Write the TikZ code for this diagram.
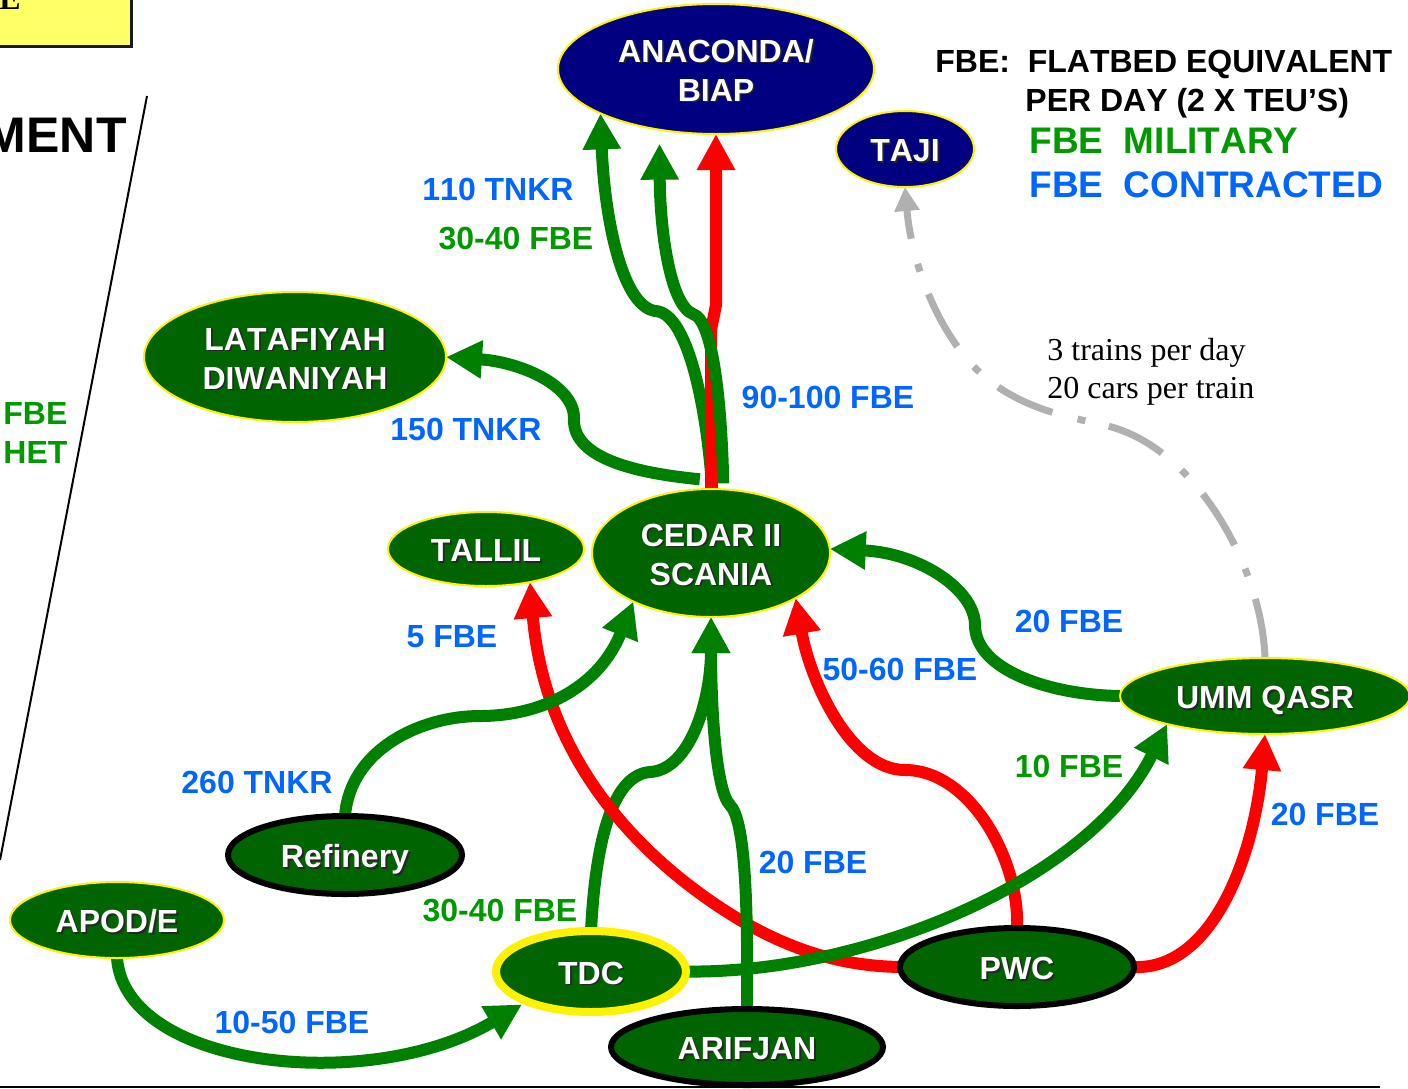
\documentclass[tikz,border=0pt]{standalone}
\usepackage{fontspec}
\setmainfont[Kerning=Off]{Liberation Sans}
\newfontfamily\serifface{Liberation Serif}
\usetikzlibrary{arrows.meta,shapes.geometric,backgrounds,calc}
\definecolor{lineGreen}{HTML}{008000}
\definecolor{nodeGreen}{HTML}{006400}
\definecolor{labelGreen}{HTML}{009900}
\definecolor{labelBlue}{HTML}{0066FF}
\definecolor{navyFill}{HTML}{000080}
\definecolor{paleYellow}{HTML}{FFFF66}
\definecolor{railGrey}{HTML}{B0B0B0}
\newcommand\shtxt[1]{\leavevmode\rlap{\raisebox{-0.9pt}{\kern0.9pt\textcolor{black!85}{#1}}}#1}
\tikzset{
  base/.style={ellipse,inner sep=0pt,outer sep=0pt,text=white,align=center,
    text height=12.5pt,text depth=0pt,
    font=\fontsize{16}{19.5}\selectfont\bfseries},
  twolines/.style={text height=32pt,text depth=0pt},
  navyN/.style={base,fill=navyFill,draw=yellow,line width=1pt},
  greenN/.style={base,fill=nodeGreen,draw=yellow,line width=1pt},
  blackN/.style={base,fill=nodeGreen,draw=black,line width=3pt},
  hubN/.style={base,fill=nodeGreen,draw=yellow,line width=4pt},
  lab/.style={font=\fontsize{16}{19}\selectfont\bfseries,inner sep=0pt},
  blueL/.style={lab,text=labelBlue},
  greenL/.style={lab,text=labelGreen},
  route/.style={line width=6pt,-{Triangle[length=18pt,width=18pt]}},
  mil/.style={route,draw=lineGreen},
  hot/.style={route,draw=red},
  rail/.style={line width=3.5pt,draw=railGrey,dash pattern=on 30pt off 12pt on 4pt off 13pt,
    -{Triangle[length=12pt,width=12pt,fill=railGrey]}},
}
\begin{document}
\begin{tikzpicture}[x=0.5pt,y=-0.5pt]
\useasboundingbox (0,0) rectangle (1408,1088);
% frame fragments at the left
\node[draw=black!90,line width=1.5pt,fill=paleYellow,minimum width=137pt,minimum height=30pt,inner sep=0pt,outer sep=0pt,anchor=south east] (topbox) at (131.5,46.5) {};
\node[anchor=base west,inner sep=0pt,font=\fontsize{16}{19}\selectfont\bfseries\serifface] (topchar) at (-1,9) {E};
\node[anchor=base east,inner sep=0pt,font=\fontsize{25}{29}\selectfont\bfseries] (ment) at (127,152.5) {MENT};
\coordinate (slashT) at (147,96);
\coordinate (slashB) at (0,860);
\draw[line width=1pt] (slashT) -- (slashB);
\node[greenL,anchor=base west] (fbeL) at (3,424) {FBE};
\node[greenL,anchor=base west] (hetL) at (3,463) {HET};
\coordinate (ruleL) at (0,1087);
\coordinate (ruleR) at (1380,1087);
\draw[line width=1pt] (ruleL) -- (ruleR);

% nodes
\node[navyN,twolines,minimum width=158pt,minimum height=65pt] (ana) at (716,69) {\shtxt{ANACONDA/}\\\shtxt{BIAP}};
\node[navyN,minimum width=69pt,minimum height=38pt] (taji) at (905,149) {\shtxt{TAJI}};
\node[greenN,twolines,minimum width=151pt,minimum height=65pt] (lat) at (295,357) {\shtxt{LATAFIYAH}\\\shtxt{DIWANIYAH}};
\node[greenN,minimum width=98pt,minimum height=37pt] (tallil) at (486,549) {\shtxt{TALLIL}};
\node[greenN,twolines,minimum width=119pt,minimum height=64pt] (cedar) at (711,553) {\shtxt{CEDAR II}\\\shtxt{SCANIA}};
\node[greenN,minimum width=145pt,minimum height=38pt] (umm) at (1265,696) {\shtxt{UMM QASR}};
\node[blackN,minimum width=117pt,minimum height=39pt] (ref) at (345,855) {\shtxt{Refinery}};
\node[greenN,minimum width=107pt,minimum height=38pt] (apod) at (117,920) {\shtxt{APOD/E}};
\node[hubN,minimum width=95pt,minimum height=40.5pt] (tdc) at (591,971.5) {\shtxt{TDC}};
\node[blackN,minimum width=117pt,minimum height=39pt] (pwc) at (1017,967) {\shtxt{PWC}};
\node[blackN,minimum width=136pt,minimum height=38pt] (ari) at (747,1047) {\shtxt{ARIFJAN}};

% connectors
\begin{scope}[on background layer]
\draw[mil] ($(cedar.100)+(0,5pt)$) .. controls (625,472) and (572,455) .. (574,418)
  .. controls (574,385) and (520,362) .. (lat.east);
\draw[rail] (umm.north) .. controls (1262,570) and (1200,455) .. (1115,428)
  .. controls (1085,419) and (1040,416) .. (995,385)
  .. controls (945,350) and (912,270) .. (taji.south);
\draw[mil] (cedar.89) .. controls (708,420) and (690,312) .. (655,311)
  .. controls (620,305) and (604,210) .. (ana.201.9);
\draw[hot] (cedar.north) -- (711,330) -- (716,305) -- (ana.south);
\draw[mil,shorten >=7pt,shorten <=3pt] (cedar.79.3) .. controls (722,420) and (715,320) .. (693,314)
  .. controls (670,305) and (660,230) .. (ana.227.4);
\draw[mil] (tdc.north) .. controls (595,850) and (610,775) .. (650,772)
  .. controls (690,770) and (711,700) .. (cedar.south);
\draw[hot] (pwc.west) .. controls (850,966) and (800,955) .. (740,920)
  .. controls (640,860) and (545,760) .. (tallil.323);
\draw[hot] (pwc.north) .. controls (1020,860) and (970,770) .. (905,770)
  .. controls (850,770) and (810,680) .. (cedar.332.8);
\draw[hot] (pwc.east) .. controls (1215,970) and (1255,850) .. (umm.south);
\draw[mil] (ref.north) .. controls (350,750) and (420,716) .. (480,716)
  .. controls (545,716) and (600,685) .. (cedar.212.4);
\draw[mil] (ari.north) .. controls (748,900) and (745,820) .. (730,805)
  .. controls (715,790) and (711,700) .. (cedar.south);
\draw[mil] (tdc.east) .. controls (865,974) and (1090,880) .. (umm.196.2);
\draw[mil] (umm.west) .. controls (1050,695) and (975,670) .. (975,625)
  .. controls (975,590) and (920,553) .. (cedar.2);
\draw[mil] (apod.south) .. controls (125,1068) and (370,1095) .. ($(tdc.202.6)+(0,-2.5pt)$);
\end{scope}

% labels
\node[blueL] (l1) at (498,189) {110 TNKR};
\node[greenL] (l2) at (516,238) {30-40 FBE};
\node[blueL] (l3) at (828,397) {90-100 FBE};
\node[blueL] (l4) at (466,429) {150 TNKR};
\node[blueL] (l5) at (452,637) {5 FBE};
\node[blueL] (l6) at (900,669) {50-60 FBE};
\node[blueL] (l7) at (1069,621) {20 FBE};
\node[greenL] (l8) at (1069,766) {10 FBE};
\node[blueL] (l9) at (1325,814) {20 FBE};
\node[blueL] (l10) at (257,782) {260 TNKR};
\node[blueL] (l11) at (813,862) {20 FBE};
\node[greenL] (l12) at (500,910) {30-40 FBE};
\node[blueL] (l13) at (292,1022) {10-50 FBE};

% legend
\node[lab,anchor=base west] (k1) at (935,72) {FBE:\ \ FLATBED EQUIVALENT};
\node[lab,anchor=base west] (k2) at (1025,111) {PER DAY (2 X TEU’S)};
\node[lab,anchor=base west,text=labelGreen,font=\fontsize{18.5}{22}\selectfont\bfseries] (k3) at (1029,153) {FBE\ \ MILITARY};
\node[lab,anchor=base west,text=labelBlue,font=\fontsize{18.5}{22}\selectfont\bfseries] (k4) at (1029,197) {FBE\ \ CONTRACTED};
\node[anchor=base west,inner sep=0pt,font=\fontsize{16}{19}\selectfont\serifface] (t1) at (1047,360) {3 trains per day};
\node[anchor=base west,inner sep=0pt,font=\fontsize{16}{19}\selectfont\serifface] (t2) at (1047,398) {20 cars per train};
\end{tikzpicture}
\end{document}
